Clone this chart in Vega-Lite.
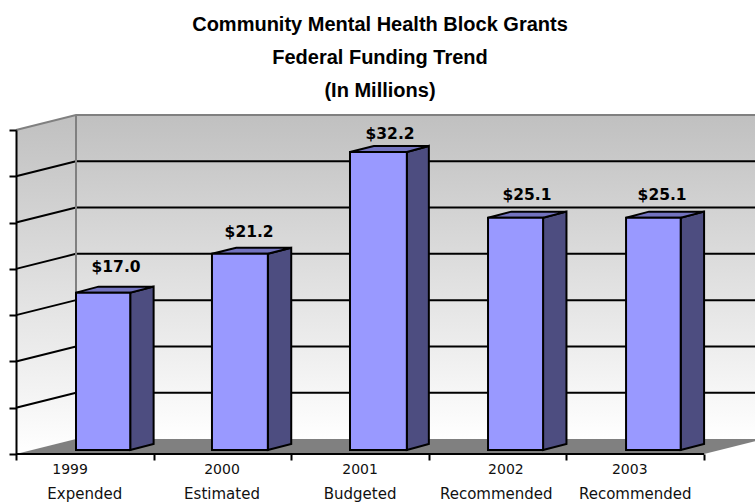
{
"$schema":"https://vega.github.io/schema/vega-lite/v6.json",
"width":739,"height":324,
"autosize":{"type":"none"},
"padding":{"left":16,"top":130,"right":0,"bottom":50},
"background":"white",
"title":{"text":["Community Mental Health Block Grants","Federal Funding Trend","(In Millions)"],"font":"Liberation Sans","fontWeight":"bold","fontSize":20,"lineHeight":33,"color":"#000000","anchor":"start","align":"center","dx":372,"offset":10},
"config":{"view":{"stroke":null}},
"encoding":{
 "x":{"field":"x","type":"quantitative","scale":{"domain":[0,5.37],"nice":false,"zero":false},"axis":{"values":[0,1,2,3,4,5],"title":null,"labels":false,"grid":false,"domain":false,"ticks":true,"tickColor":"#000000","tickWidth":2,"tickSize":6,"zindex":1}},
 "y":{"field":"y","type":"quantitative","scale":{"domain":[0,35],"nice":false,"zero":false},"axis":{"values":[0,5,10,15,20,25,30,35],"title":null,"labels":false,"grid":false,"domain":true,"domainColor":"#000000","domainWidth":2,"ticks":true,"tickColor":"#000000","tickWidth":2,"tickSize":7,"zindex":1}}
},
"layer":[
 {"data":{"values":[
   {"wall":"left","x":0,"y":0,"y2":35},{"wall":"left","x":0.436,"y":1.62,"y2":36.62},
   {"wall":"back","x":0.436,"y":1.62,"y2":36.62},{"wall":"back","x":5.37,"y":1.62,"y2":36.62}]},
  "mark":{"type":"area","orient":"vertical","color":{"gradient":"linear","x1":0,"y1":0,"x2":0,"y2":1,"stops":[{"offset":0,"color":"#c0c0c0"},{"offset":1,"color":"#ffffff"}]}},
  "encoding":{"y2":{"field":"y2"},"detail":{"field":"wall"}}},
 {"data":{"values":[
   {"x":0,"y":0,"y2":0},{"x":0.436,"y":0,"y2":1.62},{"x":5,"y":0,"y2":1.62},{"x":5.37,"y":1.38,"y2":1.62}]},
  "mark":{"type":"area","orient":"vertical","color":"#808080"},
  "encoding":{"y2":{"field":"y2"}}},
 {"data":{"values":[
   {"g":"5","x":0,"y":5},{"g":"5","x":0.436,"y":6.62},{"g":"5","x":5.37,"y":6.62},
   {"g":"10","x":0,"y":10},{"g":"10","x":0.436,"y":11.62},{"g":"10","x":5.37,"y":11.62},
   {"g":"15","x":0,"y":15},{"g":"15","x":0.436,"y":16.62},{"g":"15","x":5.37,"y":16.62},
   {"g":"20","x":0,"y":20},{"g":"20","x":0.436,"y":21.62},{"g":"20","x":5.37,"y":21.62},
   {"g":"25","x":0,"y":25},{"g":"25","x":0.436,"y":26.62},{"g":"25","x":5.37,"y":26.62},
   {"g":"30","x":0,"y":30},{"g":"30","x":0.436,"y":31.62},{"g":"30","x":5.37,"y":31.62},
   {"g":"base","x":0,"y":0},{"g":"base","x":5,"y":0}]},
  "mark":{"type":"line","color":"#000000","strokeWidth":2},
  "encoding":{"detail":{"field":"g"}}},
 {"data":{"values":[
   {"g":"top","x":0,"y":35},{"g":"top","x":0.436,"y":36.62},{"g":"top","x":5.37,"y":36.62},
   {"g":"corner","x":0.436,"y":1.62},{"g":"corner","x":0.436,"y":36.62}]},
  "mark":{"type":"line","color":"#808080","strokeWidth":2},
  "encoding":{"detail":{"field":"g"}}},
 {"data":{"values":[
   {"bar":"1999","x":0.83,"y":0.43,"y2":17.43},{"bar":"1999","x":1.0,"y":1.08,"y2":18.08},
   {"bar":"2000","x":1.83,"y":0.43,"y2":21.63},{"bar":"2000","x":2.0,"y":1.08,"y2":22.28},
   {"bar":"2001","x":2.84,"y":0.43,"y2":32.63},{"bar":"2001","x":3.0,"y":1.08,"y2":33.28},
   {"bar":"2002","x":3.83,"y":0.43,"y2":25.53},{"bar":"2002","x":4.0,"y":1.08,"y2":26.18},
   {"bar":"2003","x":4.83,"y":0.43,"y2":25.53},{"bar":"2003","x":5.0,"y":1.08,"y2":26.18}]},
  "mark":{"type":"area","orient":"vertical","color":"#4d4d80","stroke":"#000000","strokeWidth":2},
  "encoding":{"y2":{"field":"y2"},"detail":{"field":"bar"}}},
 {"data":{"values":[
   {"bar":"1999","x":0.436,"y":17.43,"y2":17.43},{"bar":"1999","x":0.6,"y":17.43,"y2":18.08},{"bar":"1999","x":0.83,"y":17.43,"y2":18.08},{"bar":"1999","x":1.0,"y":18.08,"y2":18.08},
   {"bar":"2000","x":1.424,"y":21.63,"y2":21.63},{"bar":"2000","x":1.6,"y":21.63,"y2":22.28},{"bar":"2000","x":1.83,"y":21.63,"y2":22.28},{"bar":"2000","x":2.0,"y":22.28,"y2":22.28},
   {"bar":"2001","x":2.427,"y":32.63,"y2":32.63},{"bar":"2001","x":2.6,"y":32.63,"y2":33.28},{"bar":"2001","x":2.84,"y":32.63,"y2":33.28},{"bar":"2001","x":3.0,"y":33.28,"y2":33.28},
   {"bar":"2002","x":3.43,"y":25.53,"y2":25.53},{"bar":"2002","x":3.6,"y":25.53,"y2":26.18},{"bar":"2002","x":3.83,"y":25.53,"y2":26.18},{"bar":"2002","x":4.0,"y":26.18,"y2":26.18},
   {"bar":"2003","x":4.433,"y":25.53,"y2":25.53},{"bar":"2003","x":4.6,"y":25.53,"y2":26.18},{"bar":"2003","x":4.83,"y":25.53,"y2":26.18},{"bar":"2003","x":5.0,"y":26.18,"y2":26.18}]},
  "mark":{"type":"area","orient":"vertical","color":"#7373bf","stroke":"#000000","strokeWidth":2},
  "encoding":{"y2":{"field":"y2"},"detail":{"field":"bar"}}},
 {"data":{"values":[
   {"year":"1999","x":0.436,"x2":0.83,"y":0.43,"y2":17.43},
   {"year":"2000","x":1.424,"x2":1.83,"y":0.43,"y2":21.63},
   {"year":"2001","x":2.427,"x2":2.84,"y":0.43,"y2":32.63},
   {"year":"2002","x":3.43,"x2":3.83,"y":0.43,"y2":25.53},
   {"year":"2003","x":4.433,"x2":4.83,"y":0.43,"y2":25.53}]},
  "mark":{"type":"rect","color":"#9999ff","stroke":"#000000","strokeWidth":2},
  "encoding":{"x2":{"field":"x2"},"y2":{"field":"y2"}}},
 {"data":{"values":[
   {"label":"$17.0","x":0.727,"y":20.2},
   {"label":"$21.2","x":1.694,"y":24},
   {"label":"$32.2","x":2.718,"y":34.6},
   {"label":"$25.1","x":3.713,"y":27.97},
   {"label":"$25.1","x":4.695,"y":27.97}]},
  "mark":{"type":"text","font":"DejaVu Sans","fontWeight":"bold","fontSize":15.5,"color":"#000000","align":"center","baseline":"middle"},
  "encoding":{"text":{"field":"label"}}},
 {"data":{"values":[
   {"label":"1999","x":0.393,"y":-1.75},{"label":"2000","x":1.497,"y":-1.75},{"label":"2001","x":2.5,"y":-1.75},{"label":"2002","x":3.56,"y":-1.75},{"label":"2003","x":4.46,"y":-1.75}]},
  "mark":{"type":"text","font":"DejaVu Sans","fontSize":14,"color":"#111111","align":"center","baseline":"middle"},
  "encoding":{"text":{"field":"label"}}},
 {"data":{"values":[
   {"label":"Expended","x":0.5,"y":-4.35},{"label":"Estimated","x":1.497,"y":-4.35},{"label":"Budgeted","x":2.5,"y":-4.35},{"label":"Recommended","x":3.49,"y":-4.35},{"label":"Recommended","x":4.5,"y":-4.35}]},
  "mark":{"type":"text","font":"DejaVu Sans","fontSize":15,"color":"#111111","align":"center","baseline":"middle"},
  "encoding":{"text":{"field":"label"}}}
]
}
